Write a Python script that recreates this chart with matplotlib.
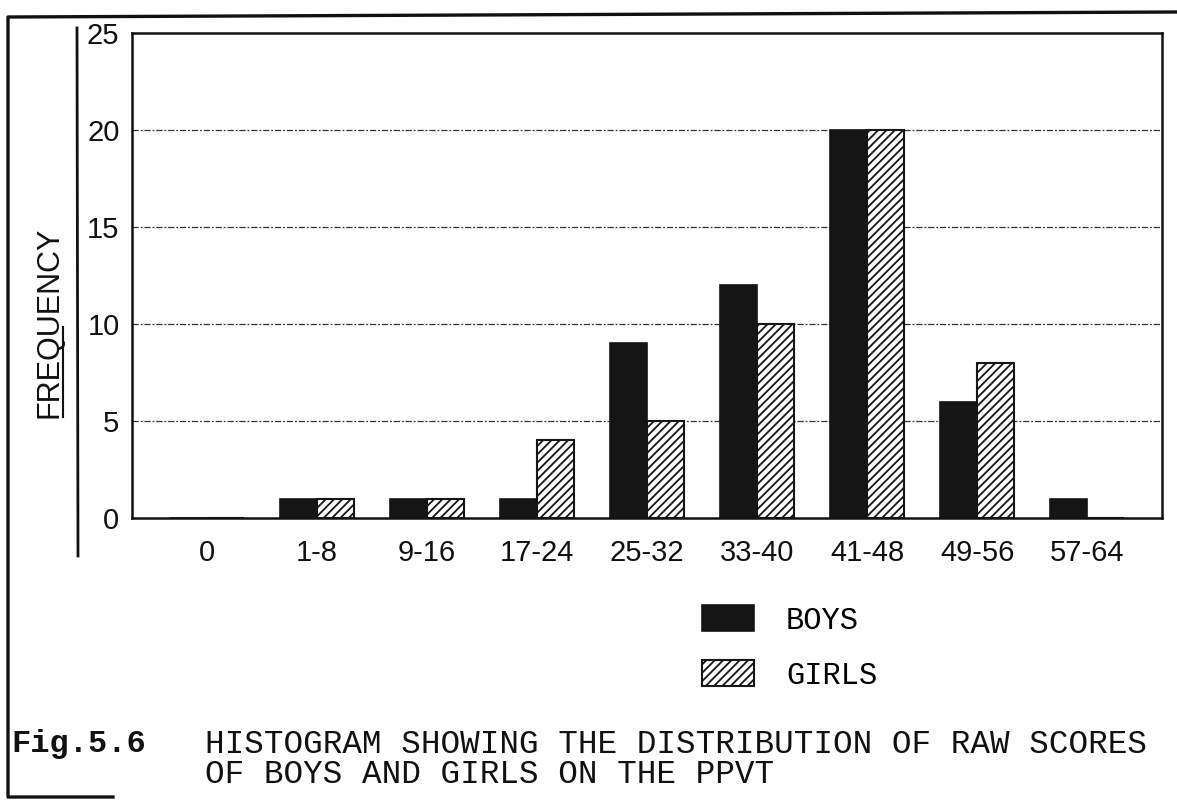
import matplotlib
matplotlib.use("Agg")
import matplotlib.pyplot as plt
from matplotlib.lines import Line2D
import numpy as np

categories = ["0", "1-8", "9-16", "17-24", "25-32", "33-40", "41-48", "49-56", "57-64"]
boys = [0, 1, 1, 1, 9, 12, 20, 6, 1]
girls = [0, 1, 1, 4, 5, 10, 20, 8, 0]
series_labels = ["BOYS", "GIRLS"]
y_ticks = [0, 5, 10, 15, 20, 25]
caption_tag = "Fig.5.6"
caption_lines = ["HISTOGRAM SHOWING THE DISTRIBUTION OF RAW SCORES",
                 "OF BOYS AND GIRLS ON THE PPVT"]
y_label = "FREQUENCY"

W, H = 1177, 801
plt.rcParams['hatch.linewidth'] = 1.3
plt.rcParams['hatch.color'] = '#1a1a1a'

fig = plt.figure(figsize=(W / 100, H / 100), dpi=100)
fig.patch.set_facecolor('white')

def fx(x):
    return x / W

def fy(y):
    return 1 - y / H

# axes placement (pixel based)
left, right, top, bottom = 132, 1162, 33, 518
ax = fig.add_axes([fx(left), fy(bottom), fx(right - left), (bottom - top) / H])

x = np.arange(len(categories))
bw = 0.336
b1 = ax.bar(x - bw / 2, boys, width=bw, color='#151515', edgecolor='#151515',
            linewidth=1.2, zorder=3, label=series_labels[0])
b2 = ax.bar(x + bw / 2, girls, width=bw, color='white', edgecolor='#151515',
            hatch='////', linewidth=1.5, zorder=3, label=series_labels[1])

ax.set_xlim(-0.68, 8.68)
ax.set_ylim(0, 25)
ax.set_yticks(y_ticks)
ax.set_xticks(x)
ax.set_xticklabels(categories)
for g in y_ticks[1:-1]:
    ax.axhline(g, color='#333333', linewidth=0.9, linestyle=(0, (5, 1.5, 1.5, 1.5)), zorder=1)

for sp in ax.spines.values():
    sp.set_linewidth(1.8)
    sp.set_color('#111111')
ax.tick_params(axis='both', length=0, labelsize=21, colors='#111111')
ax.tick_params(axis='y', pad=9)
ax.tick_params(axis='x', pad=15)
for lab in ax.get_xticklabels() + ax.get_yticklabels():
    lab.set_fontfamily('Liberation Sans')

# y label with partial underline
fig.text(fx(50), fy(322), y_label, rotation=90, ha='center', va='center',
         fontsize=22, family='Liberation Sans', color='#111111')
fig.add_artist(Line2D([fx(63), fx(63)], [fy(327), fy(417)], color='#111111', linewidth=1.5))

# inner vertical rule
fig.add_artist(Line2D([fx(77), fx(78)], [fy(28), fy(556)], color='#111111', linewidth=2.0))

# outer frame
fig.add_artist(Line2D([fx(1177), fx(8), fx(8), fx(113)],
                      [fy(12), fy(17), fy(797), fy(797)],
                      color='#111111', linewidth=2.4))

# legend
leg = fig.legend(handles=[b1, b2], labels=series_labels, loc='upper left',
                 bbox_to_anchor=(fx(702), fy(605)), frameon=False,
                 prop={'family': 'Liberation Mono', 'size': 22},
                 handlelength=1.7, handleheight=0.95, handletextpad=1.05,
                 labelspacing=0.8, borderpad=0, borderaxespad=0)

# caption
fig.text(fx(11), fy(752), caption_tag, ha='left', va='baseline', fontsize=23,
         family='Liberation Mono', fontweight='bold', color='#111111')
fig.text(fx(205), fy(783), "\n".join(caption_lines), ha='left', va='baseline',
         fontsize=23.5, family='Liberation Mono', color='#111111',
         linespacing=0.97, multialignment='left')

fig.savefig('out.png', dpi=100, facecolor='white')
